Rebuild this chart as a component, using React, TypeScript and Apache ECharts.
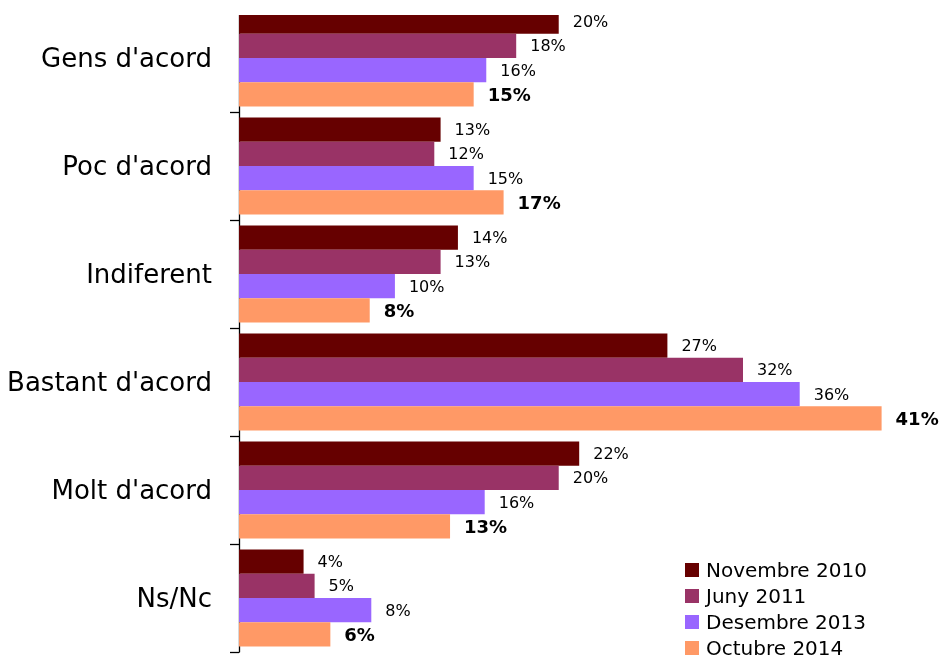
import React, { useEffect, useRef } from "react";
import * as echarts from "echarts";

const categories = ["Gens d'acord", "Poc d'acord", "Indiferent", "Bastant d'acord", "Molt d'acord", "Ns/Nc"];
const seriesNames = ["Novembre 2010", "Juny 2011", "Desembre 2013", "Octubre 2014"];
const colors = ["#660000", "#993366", "#9966FF", "#FF9966"];
const nov2010 = [20.3, 12.8, 13.9, 27.2, 21.6, 4.1];
const juny2011 = [17.6, 12.4, 12.8, 32.0, 20.3, 4.8];
const des2013 = [15.7, 14.9, 9.9, 35.6, 15.6, 8.4];
const oct2014 = [14.9, 16.8, 8.3, 40.8, 13.4, 5.8];
const allValues = [nov2010, juny2011, des2013, oct2014];

export default function App() {
  const ref = useRef<HTMLDivElement>(null);
  useEffect(() => {
    if (!ref.current) return;
    const chart = echarts.init(ref.current, undefined, { renderer: "svg" });
    const font = "DejaVu Sans";
    chart.setOption({
      animation: false,
      textStyle: { fontFamily: font },
      grid: { left: 239, top: 4, width: 661.5, height: 648, containLabel: false },
      xAxis: { type: "value", min: 0, max: 42, show: false, splitLine: { show: false } },
      yAxis: {
        type: "category",
        data: categories,
        inverse: true,
        axisLine: { show: true, lineStyle: { color: "#000", width: 1.3 } },
        axisTick: { show: true, length: 9, lineStyle: { color: "#000", width: 1.3 } },
        axisLabel: { color: "#000", fontSize: 26, fontFamily: font, margin: 27 },
      },
      legend: {
        orient: "vertical",
        left: 680,
        top: 555,
        height: 104,
        itemWidth: 14,
        itemHeight: 14,
        itemGap: 6,
        icon: "rect",
        textStyle: { color: "#000", fontSize: 20, fontFamily: font, padding: [0, 0, 0, 2] },
        data: seriesNames,
      },
      series: seriesNames.map((name, i) => ({
        name,
        type: "bar",
        data: allValues[i],
        barGap: "0%",
        barCategoryGap: "10%",
        itemStyle: { color: colors[i] },
        label: {
          show: true,
          position: "right",
          distance: 14,
          color: "#000",
          fontFamily: font,
          fontSize: i === 3 ? 18 : 16,
          fontWeight: i === 3 ? "bold" : "normal",
          formatter: (p: any) => Math.round(p.value) + "%",
        },
      })),
      graphic: [
        {
          type: "rect",
          shape: { x: 225, y: 0, width: 714, height: 15 },
          style: { fill: "#fff" },
          z: 100,
        },
      ],
    });
    return () => chart.dispose();
  }, []);
  return <div ref={ref} style={{ position: "fixed", left: 0, top: 0, width: 939, height: 659 }} />;
}
